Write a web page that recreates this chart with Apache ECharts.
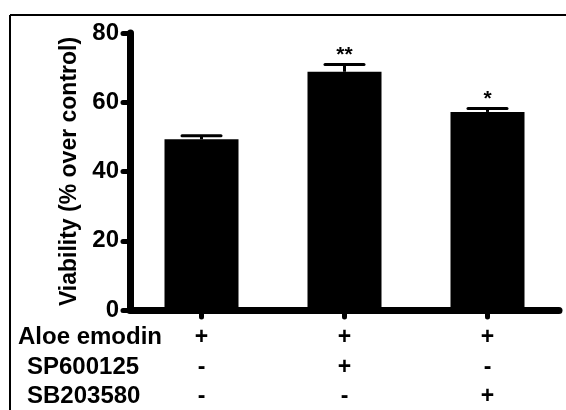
<!DOCTYPE html>
<html>
<head>
<meta charset="utf-8">
<script src="https://cdn.jsdelivr.net/npm/echarts@6/dist/echarts.min.js"></script>
<style>
html,body{margin:0;padding:0;background:#fff;}
#chart{width:566px;height:410px;}
</style>
</head>
<body>
<div id="chart"></div>
<script>
// ---- data ----
var categories = ['G1', 'G2', 'G3'];
var viability = [49.3, 68.8, 57.2];
var errorUpper = [50.3, 70.9, 58.2];
var significance = ['', '**', '*'];
var rowNames = ['Aloe emodin', 'SP600125', 'SB203580'];
var rowSigns = [
  ['+', '+', '+'],
  ['-', '+', '-'],
  ['-', '-', '+']
];
var yTicks = [0, 20, 40, 60, 80];
var yTitle = 'Viability (% over control)';

var FONT = 'Liberation Sans, Arial, sans-serif';
var chart = echarts.init(document.getElementById('chart'));

var rowY = [338, 368, 397];
var rowX = [18, 27, 27];
var graphics = [
  {type: 'line', shape: {x1: 10, y1: 15, x2: 566, y2: 15}, style: {stroke: '#000', lineWidth: 2}},
  {type: 'line', shape: {x1: 10, y1: 15, x2: 10, y2: 410}, style: {stroke: '#000', lineWidth: 2}}
];
rowNames.forEach(function (n, i) {
  graphics.push({
    type: 'text', left: rowX[i], top: rowY[i] - 13,
    style: {text: n, font: 'bold 24px ' + FONT, fill: '#000'}
  });
});

var option = {
  animation: false,
  backgroundColor: '#fff',
  grid: {left: 130, right: 7, top: 33, bottom: 100},
  xAxis: {
    type: 'category',
    data: categories,
    axisLine: {lineStyle: {color: '#000', width: 7, cap: 'round'}},
    axisTick: {show: true, alignWithLabel: true, length: 7, lineStyle: {color: '#000', width: 5, cap: 'round'}},
    axisLabel: {
      margin: 13,
      formatter: function (v, idx) {
        return rowSigns.map(function (r) { return '{s|' + r[idx] + '}'; }).join('\n');
      },
      rich: {s: {fontSize: 23, fontWeight: 'bold', fontFamily: FONT, color: '#000', lineHeight: 29.5, align: 'center'}}
    }
  },
  yAxis: {
    type: 'value',
    min: 0, max: 80, interval: 20,
    name: yTitle,
    nameLocation: 'middle',
    nameRotate: 90,
    nameGap: 49,
    nameTextStyle: {fontSize: 23, fontWeight: 'bold', fontFamily: FONT, color: '#000'},
    axisLine: {show: true, lineStyle: {color: '#000', width: 7}},
    axisTick: {show: true, length: 7, lineStyle: {color: '#000', width: 5, cap: 'round'}},
    axisLabel: {
      margin: 11, fontSize: 24, fontWeight: 'bold', fontFamily: FONT, color: '#000',
      formatter: function (v) { return yTicks.indexOf(v) >= 0 ? String(v) : ''; }
    },
    splitLine: {show: false}
  },
  series: [
    {
      type: 'bar',
      data: viability,
      barWidth: 74,
      itemStyle: {color: '#000'},
      z: 2
    },
    {
      type: 'custom',
      z: 3,
      data: categories.map(function (c, i) { return [i, viability[i], errorUpper[i]]; }),
      renderItem: function (params, api) {
        var base = api.coord([api.value(0), api.value(1)]);
        var top = api.coord([api.value(0), api.value(2)]);
        var half = 19.5;
        var sig = significance[params.dataIndex];
        var children = [
          {type: 'line', shape: {x1: base[0], y1: base[1], x2: top[0], y2: top[1]}, style: {stroke: '#000', lineWidth: 3}},
          {type: 'line', shape: {x1: top[0] - half, y1: top[1], x2: top[0] + half, y2: top[1]}, style: {stroke: '#000', lineWidth: 3, lineCap: 'round'}}
        ];
        if (sig) {
          children.push({type: 'text', x: top[0], y: top[1] + 1,
            style: {text: sig, font: 'bold 21px ' + FONT, fill: '#000', textAlign: 'center', textVerticalAlign: 'bottom'}});
        }
        return {type: 'group', children: children};
      }
    }
  ],
  graphic: graphics
};
chart.setOption(option);
</script>
</body>
</html>
